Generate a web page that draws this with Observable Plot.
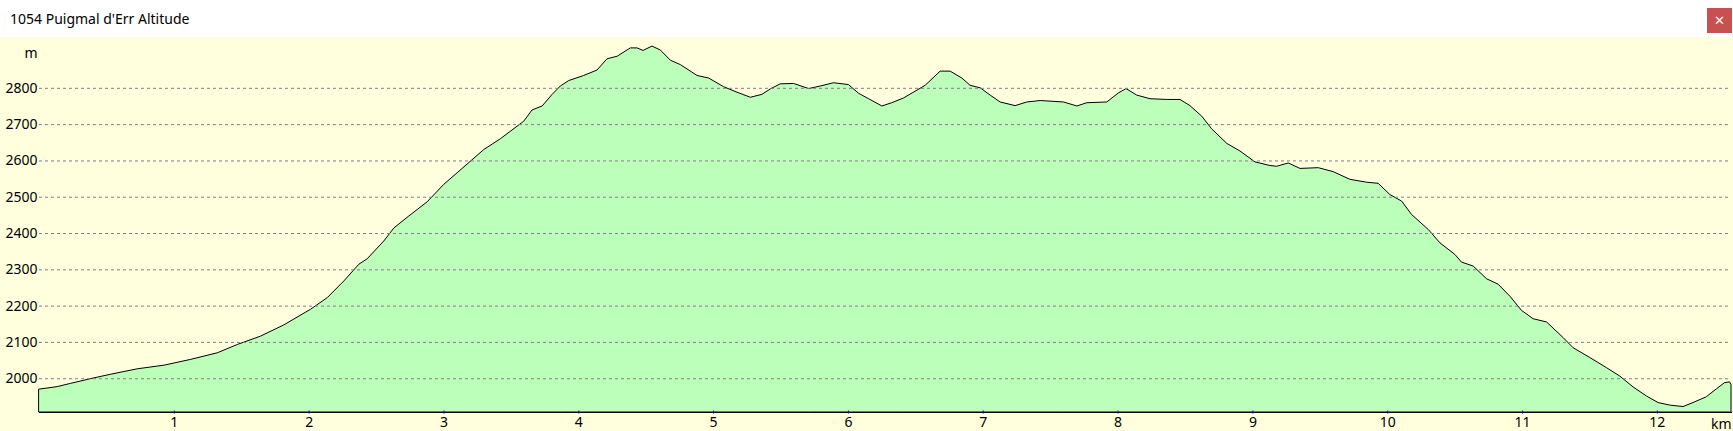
<!DOCTYPE html>
<html>
<head>
<meta charset="utf-8">
<script src="https://cdn.jsdelivr.net/npm/d3@7"></script>
<script src="https://cdn.jsdelivr.net/npm/@observablehq/plot@0.6"></script>
<style>
  html, body { margin: 0; padding: 0; background: #ffffff; }
  #wrap { position: relative; width: 1733px; height: 431px; overflow: hidden; }
  #titlebar { position: relative; height: 37px; background: #ffffff; font-family: "Noto Sans", sans-serif; font-size: 14px; color: #000; }
  #title { position: absolute; left: 10px; top: 9px; line-height: 19px; white-space: nowrap; }
  #close { position: absolute; left: 1707px; top: 8px; width: 25px; height: 25px; background: #c75050; color: #fff;
           font-family: "DejaVu Sans", sans-serif; font-weight: bold; font-size: 13px; line-height: 25px; text-align: center; }
  #chart svg { display: block; }
</style>
</head>
<body>
<div id="wrap">
  <div id="titlebar"><span id="title">1054 Puigmal d'Err Altitude</span><div id="close">✕</div></div>
  <div id="chart"></div>
</div>
<script>
// Distance along track (km)
const distanceKm = [
  0, 0.136, 0.235, 0.383, 0.531, 0.729, 0.927, 1.125, 1.322, 1.471, 1.643, 1.816,
  2.014, 2.138, 2.261, 2.372, 2.434, 2.557, 2.632, 2.743, 2.879, 3.002, 3.101, 3.299,
  3.423, 3.595, 3.657, 3.732, 3.806, 3.867, 3.929, 4.040, 4.139, 4.213, 4.288, 4.386,
  4.436, 4.480, 4.547, 4.609, 4.683, 4.757, 4.881, 4.967, 5.078, 5.177, 5.276, 5.362,
  5.424, 5.498, 5.597, 5.708, 5.795, 5.893, 6.004, 6.079, 6.153, 6.252, 6.325, 6.412,
  6.573, 6.684, 6.758, 6.845, 6.906, 6.981, 7.055, 7.129, 7.240, 7.327, 7.426, 7.599,
  7.698, 7.772, 7.920, 8.006, 8.063, 8.142, 8.241, 8.365, 8.463, 8.537, 8.624, 8.698,
  8.810, 8.908, 9.019, 9.130, 9.180, 9.266, 9.353, 9.489, 9.600, 9.723, 9.847, 9.933,
  10.020, 10.107, 10.181, 10.304, 10.391, 10.502, 10.551, 10.638, 10.737, 10.823, 10.910, 10.996,
  11.082, 11.182, 11.305, 11.379, 11.503, 11.627, 11.725, 11.824, 11.923, 12.009, 12.096, 12.194,
  12.268, 12.367, 12.442, 12.503, 12.540, 12.550
];
// Altitude (m)
const altitudeM = [
  1970, 1977, 1986, 1999, 2011, 2026, 2036, 2052, 2070, 2093, 2116, 2147,
  2190, 2222, 2268, 2314, 2329, 2378, 2414, 2447, 2486, 2534, 2566, 2630,
  2660, 2708, 2739, 2750, 2782, 2805, 2820, 2834, 2849, 2880, 2887, 2910,
  2910, 2903, 2915, 2904, 2876, 2864, 2834, 2827, 2803, 2788, 2774, 2782,
  2797, 2811, 2812, 2798, 2805, 2814, 2809, 2785, 2770, 2750, 2759, 2772,
  2807, 2846, 2846, 2827, 2807, 2800, 2780, 2761, 2751, 2761, 2765, 2761,
  2750, 2759, 2761, 2786, 2798, 2780, 2770, 2768, 2768, 2751, 2722, 2687,
  2647, 2626, 2596, 2586, 2584, 2593, 2578, 2580, 2569, 2548, 2540, 2537,
  2506, 2488, 2451, 2410, 2373, 2341, 2320, 2309, 2274, 2259, 2226, 2187,
  2164, 2155, 2112, 2084, 2057, 2029, 2006, 1976, 1951, 1933, 1926, 1922,
  1933, 1949, 1971, 1988, 1990, 1982
];
const xTicks = [1, 2, 3, 4, 5, 6, 7, 8, 9, 10, 11, 12];
const yTicks = [2000, 2100, 2200, 2300, 2400, 2500, 2600, 2700, 2800];
const xDomain = [0, 12.55];
const yDomain = [1907, 2940];

const profile = distanceKm.map((d, i) => ({km: d, m: altitudeM[i]}));

const chart = Plot.plot({
  width: 1733,
  height: 394,
  marginLeft: 39,
  marginRight: 2,
  marginTop: 0,
  marginBottom: 19,
  style: {background: "#ffffdd", fontFamily: "'Noto Sans', sans-serif", fontSize: "14px", color: "#000", overflow: "visible"},
  x: {domain: xDomain, axis: null},
  y: {domain: yDomain, axis: null},
  marks: [
    Plot.areaY(profile, {x: "km", y1: yDomain[0], y2: "m", fill: "#bbffbb", stroke: "#000", strokeWidth: 1, curve: "linear"}),
    Plot.ruleY(yTicks, {stroke: "#857e87", strokeDasharray: "3,3", strokeWidth: 1}),
    Plot.frame({anchor: "bottom", stroke: "#000"}),
    Plot.axisY({ticks: yTicks, tickSize: 0, tickPadding: 2, tickFormat: d => String(d), label: null, fontSize: 14, fill: "#000"}),
    Plot.axisX({ticks: xTicks, tickSize: 3, stroke: "#0000ff", dy: -1.5, tickFormat: () => "", label: null}),
    Plot.axisX({ticks: xTicks, tickSize: 0, tickPadding: 5, tickFormat: d => String(d), label: null, fontSize: 14, fill: "#000"}),
    Plot.text(["m"], {frameAnchor: "top-left", textAnchor: "end", lineAnchor: "bottom", dx: -2, dy: 20, fontSize: 14, fill: "#000"}),
    Plot.text(["km"], {frameAnchor: "bottom-right", textAnchor: "end", lineAnchor: "bottom", dy: 16, fontSize: 14, fill: "#000"})
  ]
});
document.getElementById("chart").appendChild(chart);
</script>
</body>
</html>
